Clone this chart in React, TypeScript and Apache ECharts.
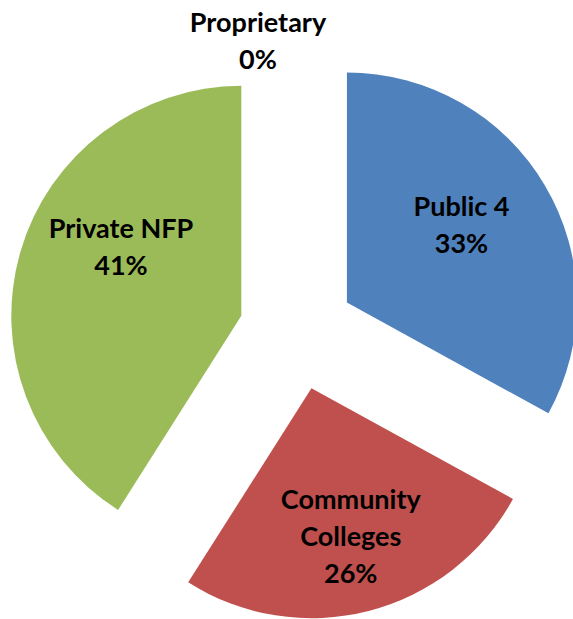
import React, { useEffect, useRef } from "react";
import * as echarts from "echarts";

const categories = ["Public 4", "Community Colleges", "Private NFP", "Proprietary"];
const shares = [33, 26, 41, 0];
const colors = ["#4F81BD", "#C0504D", "#9BBB59", "#8064A2"];
const labelOffsets: [number, number][] = [
  [13, -18],
  [10, 33],
  [-7, -37],
  [-39, -116],
];

export default function App() {
  const ref = useRef<HTMLDivElement>(null);
  useEffect(() => {
    if (!ref.current) return;
    const chart = echarts.init(ref.current, null, { renderer: "svg" });
    chart.setOption({
      animation: false,
      backgroundColor: "#ffffff",
      series: [
        {
          type: "pie",
          center: [297, 332],
          radius: [0, 230],
          startAngle: 90,
          clockwise: true,
          selectedMode: "multiple",
          selectedOffset: 58,
          avoidLabelOverlap: false,
          labelLine: { show: false },
          itemStyle: { borderWidth: 0 },
          emphasis: { disabled: true },
          label: {
            show: true,
            position: "inside",
            fontFamily: "Lato",
            fontWeight: "bold",
            fontSize: 27,
            lineHeight: 37,
            color: "#000000",
            align: "center",
            formatter: (p: any) =>
              p.name.replace("Community ", "Community\n") + "\n" + p.value + "%",
          },
          labelLayout: (p: any) => ({
            dx: labelOffsets[p.dataIndex][0],
            dy: labelOffsets[p.dataIndex][1],
          }),
          data: categories.map((name, i) => ({
            name,
            value: shares[i],
            selected: true,
            itemStyle: { color: colors[i] },
          })),
        },
      ],
    });
    return () => chart.dispose();
  }, []);
  return (
    <div
      ref={ref}
      style={{ position: "absolute", left: 0, top: 0, width: 573, height: 619 }}
    />
  );
}
